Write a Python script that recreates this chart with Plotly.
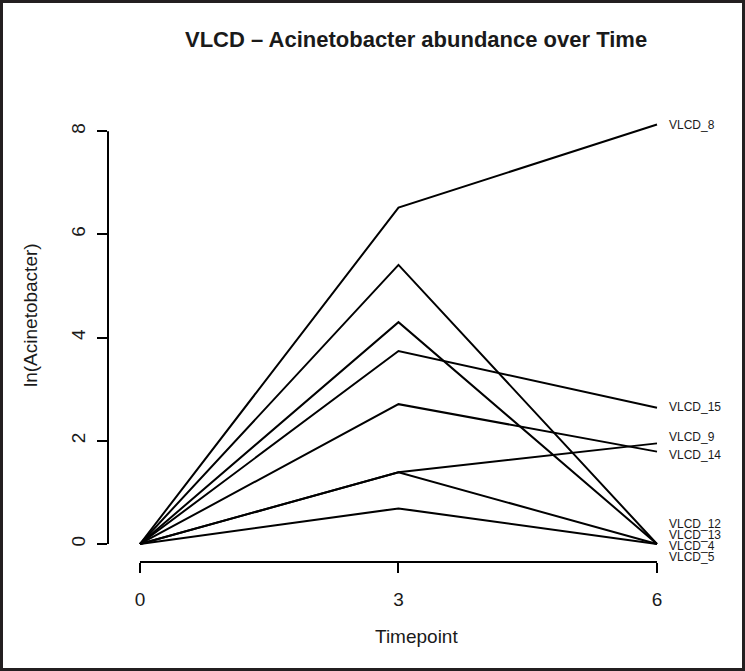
import plotly.graph_objects as go

# ---- data: ln(Acinetobacter) per subject at each timepoint ----
timepoints = [0, 3, 6]
samples = ["VLCD_8", "VLCD_15", "VLCD_9", "VLCD_14", "VLCD_12", "VLCD_13", "VLCD_4", "VLCD_5"]
values = {
    "VLCD_8":  [0, 6.52, 8.13],
    "VLCD_15": [0, 3.74, 2.64],
    "VLCD_9":  [0, 1.39, 1.95],
    "VLCD_14": [0, 2.71, 1.79],
    "VLCD_12": [0, 5.41, 0],
    "VLCD_13": [0, 4.30, 0],
    "VLCD_4":  [0, 1.39, 0],
    "VLCD_5":  [0, 0.69, 0],
}
# label heights at the right end (spread out so they don't overlap)
label_y = [8.13, 2.65, 2.07, 1.72, 0.38, 0.17, -0.04, -0.25]
x_ticks = [0, 3, 6]
y_ticks = [0, 2, 4, 6, 8]

W, H = 745, 671
ML, MR, MT, MB = 108, 55, 100, 109
pw, ph = W - ML - MR, H - MT - MB
FONT = "Liberation Sans, Arial, Helvetica, sans-serif"
INK = "#1a1a1a"

fig = go.Figure()
for s in samples:
    fig.add_trace(go.Scatter(x=timepoints, y=values[s], mode="lines", name=s,
                             line=dict(color="black", width=2), showlegend=False,
                             cliponaxis=False))

# sample labels to the right of the last timepoint
for s, ly in zip(samples, label_y):
    fig.add_annotation(x=timepoints[-1], y=ly, text=s, showarrow=False,
                       xanchor="left", yanchor="middle", xshift=10,
                       font=dict(size=12, color=INK, family=FONT))

# R-style axis lines that only span the tick range
fig.add_shape(type="line", xref="x", yref="y domain", x0=x_ticks[0], x1=x_ticks[-1], y0=0, y1=0,
              line=dict(color="black", width=2))
fig.add_shape(type="line", xref="x domain", yref="y", x0=0, x1=0, y0=y_ticks[0], y1=y_ticks[-1],
              line=dict(color="black", width=2))

# frame round the whole figure
fig.add_shape(type="rect", xref="paper", yref="paper",
              x0=(1.5 - ML) / pw, x1=(W - 1.5 - ML) / pw,
              y0=(1.5 - MB) / ph, y1=(H - MB - 1.5) / ph,
              line=dict(color="#231f20", width=3), fillcolor="rgba(0,0,0,0)")

# titles
fig.add_annotation(xref="paper", yref="paper", x=(416 - ML) / pw, y=(H - MB - 40) / ph,
                   text="<b>VLCD – Acinetobacter abundance over Time</b>", showarrow=False,
                   xanchor="center", yanchor="middle", font=dict(size=22, color=INK, family=FONT))
fig.add_annotation(xref="paper", yref="paper", x=(416 - ML) / pw, y=(H - MB - 636) / ph,
                   text="Timepoint", showarrow=False,
                   xanchor="center", yanchor="middle", font=dict(size=19, color=INK, family=FONT))
fig.add_annotation(xref="paper", yref="paper", x=(30 - ML) / pw, y=(H - MB - 315) / ph,
                   text="ln(Acinetobacter)", showarrow=False, textangle=-90,
                   xanchor="center", yanchor="middle", font=dict(size=19, color=INK, family=FONT))

fig.update_xaxes(range=[-0.371, 6.383], tickvals=x_ticks, ticks="outside", ticklen=10,
                 tickwidth=2, tickcolor="black", showgrid=False, zeroline=False, showline=False,
                 ticklabelstandoff=10, tickfont=dict(size=19, color=INK, family=FONT))
fig.update_yaxes(range=[-0.349, 8.605], tickvals=y_ticks, ticks="outside", ticklen=10,
                 tickwidth=2, tickcolor="black", showgrid=False, zeroline=False, showline=False,
                 tickangle=-90, ticklabelstandoff=4, tickfont=dict(size=19, color=INK, family=FONT))

fig.update_layout(width=W, height=H, margin=dict(l=ML, r=MR, t=MT, b=MB),
                  plot_bgcolor="white", paper_bgcolor="white")

# drop the browser's default 8px body margin so the page fits the window
fig.write_html("out.html", config={"displayModeBar": False},
               post_script="document.body.style.margin='0';")
